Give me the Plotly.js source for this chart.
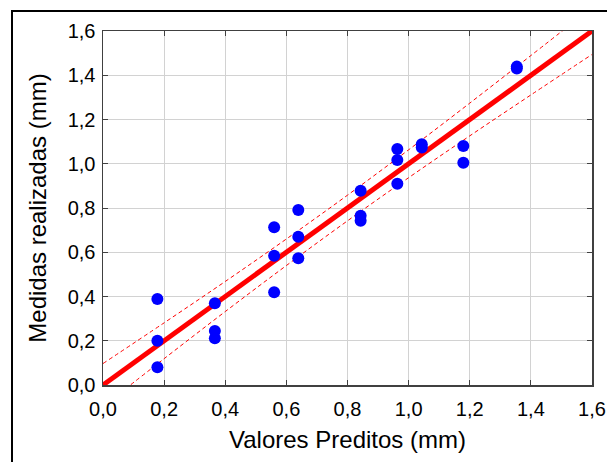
<!DOCTYPE html>
<html>
<head>
<meta charset="utf-8">
<script src="https://cdn.plot.ly/plotly-3.0.1.min.js"></script>
<style>
html,body{margin:0;padding:0;background:#fff;}
#wrap{position:relative;width:607px;height:462px;overflow:hidden;}
#chart{position:absolute;left:0;top:0;width:607px;height:462px;}
#frame{position:absolute;left:11px;top:10px;width:700px;height:600px;border-left:2px solid #000;border-top:2px solid #000;pointer-events:none;}
</style>
</head>
<body>
<div id="wrap"><div id="chart"></div><div id="frame"></div></div>
<script>
// Observed data (predicted vs measured, mm)
const predicted = [0.178,0.178,0.178,0.366,0.366,0.366,0.560,0.560,0.560,0.639,0.639,0.639,0.843,0.843,0.843,0.963,0.963,0.963,1.043,1.043,1.179,1.179,1.354,1.354];
const measured  = [0.389,0.200,0.080,0.369,0.244,0.211,0.713,0.584,0.419,0.791,0.670,0.573,0.878,0.765,0.742,1.067,1.017,0.910,1.088,1.073,1.080,1.005,1.439,1.430];
// Fitted line
const fitX = [0.0, 1.6];
const fitY = [0.0, 1.6];
// Confidence band
const bandX     = [0.0, 0.2, 0.4, 0.6, 0.8, 1.0, 1.2, 1.4, 1.6];
const bandUpper = [0.097, 0.281, 0.468, 0.660, 0.858, 1.063, 1.274, 1.489, 1.706];
const bandLower = [-0.097, 0.119, 0.332, 0.540, 0.742, 0.937, 1.126, 1.311, 1.494];
const tickVals = [0,0.2,0.4,0.6,0.8,1.0,1.2,1.4,1.6];

const traces = [
  {x: bandX, y: bandUpper, mode:'lines', line:{color:'#ff0000', width:1, dash:'4px,3px', shape:'spline'}, hoverinfo:'skip'},
  {x: bandX, y: bandLower, mode:'lines', line:{color:'#ff0000', width:1, dash:'4px,3px', shape:'spline'}, hoverinfo:'skip'},
  {x: fitX, y: fitY, mode:'lines', line:{color:'#ff0000', width:5}},
  {x: predicted, y: measured, mode:'markers', marker:{color:'#0000ff', size:12}, cliponaxis:false}
];
const axBase = {
  range:[0,1.6], tickvals:tickVals, tickformat:'.1f',
  showgrid:true, gridcolor:'#d2d2d2', gridwidth:1,
  zeroline:false, showline:true, linecolor:'#404040', linewidth:1.5, mirror:'ticks',
  ticks:'inside', ticklen:5, tickcolor:'#404040',
  tickfont:{family:'Liberation Sans, Arial', size:20, color:'#000'}
};
const layout = {
  width:607, height:462,
  margin:{l:103, r:15, t:31, b:77},
  paper_bgcolor:'rgba(0,0,0,0)', plot_bgcolor:'#fff',
  showlegend:false, separators:',.',
  xaxis: Object.assign({}, axBase, {ticklabelstandoff:5, title:{text:'Valores Preditos (mm)', font:{family:'Liberation Sans, Arial', size:24, color:'#000'}, standoff:12}}),
  yaxis: Object.assign({}, axBase, {ticklabelstandoff:2, title:{text:'Medidas realizadas (mm)', font:{family:'Liberation Sans, Arial', size:24, color:'#000'}, standoff:14}})
};
Plotly.newPlot('chart', traces, layout, {staticPlot:true, displayModeBar:false});
</script>
</body>
</html>
